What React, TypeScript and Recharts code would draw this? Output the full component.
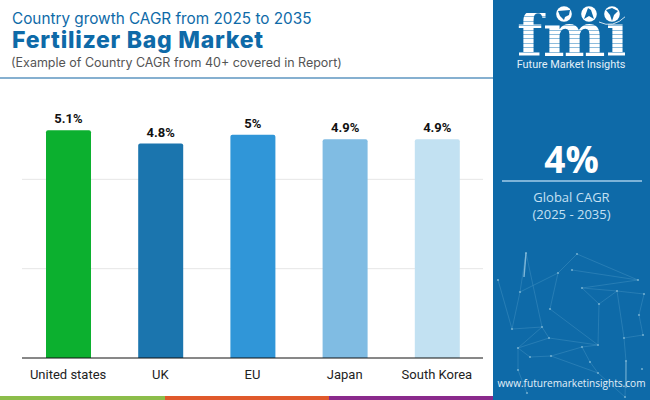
import React from 'react';
import { BarChart, Bar, XAxis, YAxis, CartesianGrid, Cell, LabelList } from 'recharts';

const countries = ['United states', 'UK', 'EU', 'Japan', 'South Korea'];
const cagrValues = [5.1, 4.8, 5, 4.9, 4.9];
const barColors = ['#0cb02f', '#1b75ae', '#3096d8', '#80bce3', '#c2e1f2'];
const gridValues = [2, 4];

const chartData = countries.map((country, i) => ({ country, cagr: cagrValues[i] }));

const TITLE_FONT = 'Inter, sans-serif';
const PANEL_FONT = '"Open Sans", sans-serif';
const BLUE = '#0e6aa8';

// background network in the side panel: [x, y] in panel coordinates
const nodes: [number, number][] = [
  [33, 23], [84, 24], [65, 43], [79, 40], [5, 50], [27, 62], [145, 50], [89, 58], [124, 61], [151, 64],
  [57, 79], [106, 74], [146, 85], [19, 99], [49, 97], [150, 105], [131, 108], [56, 108], [105, 115], [89, 117],
  [25, 118], [37, 127], [58, 126], [97, 132], [133, 131], [25, 140], [105, 143], [149, 139], [34, 163], [132, 167],
];
const links: [number, number][] = [
  [0, 5], [0, 14], [1, 2], [1, 6], [3, 6], [2, 5], [2, 10], [7, 8], [8, 9], [7, 6], [7, 11], [11, 8], [11, 18],
  [10, 18], [5, 13], [13, 14], [14, 17], [17, 18], [18, 19], [19, 22], [22, 21], [20, 21], [17, 20], [14, 20],
  [16, 24], [24, 29], [8, 16], [16, 15], [12, 15], [9, 12], [19, 23], [23, 26], [26, 29], [22, 26], [25, 28],
  [20, 25], [4, 13],
];

const Logo = () => (
  <div style={{ position: 'absolute', left: 24, top: 0, width: 108, height: 72 }}>
    <div
      style={{
        position: 'absolute',
        left: 0,
        top: 12.6,
        width: 108,
        height: 46,
        font: '700 59px/46px "DejaVu Serif", serif',
        letterSpacing: 0.6,
        whiteSpace: 'nowrap',
        color: 'transparent',
        background: 'repeating-linear-gradient(#ffffff 0 3.4px, #8dbcdc 3.4px 4.4px)',
        WebkitBackgroundClip: 'text',
        backgroundClip: 'text',
      }}
    >
      fmi
    </div>
    <svg width={108} height={30} style={{ position: 'absolute', left: 0, top: 0 }}>
      <rect x={76} y={0} width={32} height={24} fill={BLUE} />
      <circle cx={47} cy={14} r={7.8} fill="#ffffff" />
      <circle cx={72} cy={14} r={7.8} fill="#ffffff" />
      <circle cx={95} cy={14} r={7.8} fill="#ffffff" />
      <path d="M41 11 L53 10 L52 15 L48 17 L47 20 L43 16 Z" fill={BLUE} />
      <path d="M67 19 L71 8 L74 10 L77 19 L72 16 Z" fill={BLUE} />
      <path d="M89 10 L95 8 L101 11 L97 15 L95 21 L93 15 Z" fill={BLUE} />
      <path d="M82 22 Q96 29 109 16" fill="none" stroke="#ffffff" strokeWidth={0.8} />
    </svg>
    <div style={{ position: 'absolute', left: -4, top: 58, width: 116, textAlign: 'center', color: '#e3f0f9', font: '400 10.9px/13px Roboto', whiteSpace: 'nowrap' }}>
      Future Market Insights
    </div>
  </div>
);

const SidePanel = () => (
  <div style={{ position: 'absolute', left: 493, top: 0, width: 157, height: 400, background: BLUE, overflow: 'hidden' }}>
    <svg width={157} height={170} style={{ position: 'absolute', left: 0, top: 230 }}>
      {links.map(([a, b], i) => (
        <line key={i} x1={nodes[a][0]} y1={nodes[a][1]} x2={nodes[b][0]} y2={nodes[b][1]} stroke="#4f9bc8" strokeWidth={0.6} opacity={0.65} />
      ))}
      {nodes.map(([x, y], i) => (
        <circle key={i} cx={x} cy={y} r={1.1} fill="#6faccf" />
      ))}
      <line x1={33} y1={23} x2={31} y2={47} stroke="#7fb7d8" strokeWidth={1.4} />
      <line x1={133} y1={131} x2={133} y2={158} stroke="#6faccf" strokeWidth={1.1} />
    </svg>
    <Logo />
    <div style={{ position: 'absolute', left: 0, top: 136, width: 157, textAlign: 'center', color: '#fff', font: `700 37px ${PANEL_FONT}`, lineHeight: '46px' }}>4%</div>
    <div style={{ position: 'absolute', left: 9, top: 180, width: 140, height: 2, background: '#7db3d8' }} />
    <div style={{ position: 'absolute', left: 0, top: 189, width: 157, textAlign: 'center', color: '#c5e0f3', font: `400 13px ${PANEL_FONT}`, lineHeight: '16.5px' }}>
      Global CAGR
      <br />
      (2025 - 2035)
    </div>
    <div style={{ position: 'absolute', left: 0, top: 376, width: 157, textAlign: 'center', color: '#e3f0f9', font: `400 10.1px ${PANEL_FONT}`, whiteSpace: 'nowrap' }}>
      www.futuremarketinsights.com
    </div>
  </div>
);

export default function App() {
  return (
    <div style={{ position: 'absolute', left: 0, top: 0, width: 650, height: 400, background: '#fff', overflow: 'hidden' }}>
      <div style={{ position: 'absolute', left: 12, top: 10, color: BLUE, font: `400 15.3px ${TITLE_FONT}`, lineHeight: '18px', whiteSpace: 'nowrap' }}>
        Country growth CAGR from 2025 to 2035
      </div>
      <div style={{ position: 'absolute', left: 12, top: 28, color: BLUE, font: `800 23px ${TITLE_FONT}`, letterSpacing: 0.75, lineHeight: '24px', whiteSpace: 'nowrap' }}>
        Fertilizer Bag Market
      </div>
      <div style={{ position: 'absolute', left: 11, top: 53, color: '#555', font: `400 12.5px ${TITLE_FONT}`, lineHeight: '20px', whiteSpace: 'nowrap' }}>
        (Example of Country CAGR from 40+ covered in Report)
      </div>
      <div style={{ position: 'absolute', left: 0, top: 77, width: 493, height: 2, background: '#86b0d0' }} />

      <div style={{ position: 'absolute', left: 0, top: 80 }}>
        <BarChart
          width={493}
          height={310}
          data={chartData}
          margin={{ top: 10, right: 10, bottom: 0, left: 22 }}
          barSize={45}
        >
          <CartesianGrid vertical={false} stroke="#e6e6e6" strokeWidth={1} horizontalValues={gridValues} />
          <XAxis
            dataKey="country"
            axisLine={{ stroke: '#111', strokeWidth: 1 }}
            tickLine={false}
            interval={0}
            height={32}
            tick={{ fill: '#222', fontSize: 13, fontFamily: 'Roboto' }}
            tickMargin={6}
          />
          <YAxis hide domain={[0, 6]} />
          <Bar dataKey="cagr" isAnimationActive={false} radius={[2, 2, 0, 0]}>
            {chartData.map((d, i) => (
              <Cell key={d.country} fill={barColors[i]} />
            ))}
            <LabelList
              dataKey="cagr"
              position="top"
              offset={7}
              formatter={(v: number) => `${v}%`}
              style={{ fill: '#111', fontSize: 13, fontWeight: 700, fontFamily: 'Roboto' }}
            />
          </Bar>
        </BarChart>
      </div>

      <div style={{ position: 'absolute', left: 0, top: 396, width: 165, height: 4, background: '#8cbd4a' }} />
      <div style={{ position: 'absolute', left: 165, top: 396, width: 164, height: 4, background: '#e0592b' }} />
      <div style={{ position: 'absolute', left: 329, top: 396, width: 164, height: 4, background: '#8a2a8c' }} />
      <SidePanel />
    </div>
  );
}
